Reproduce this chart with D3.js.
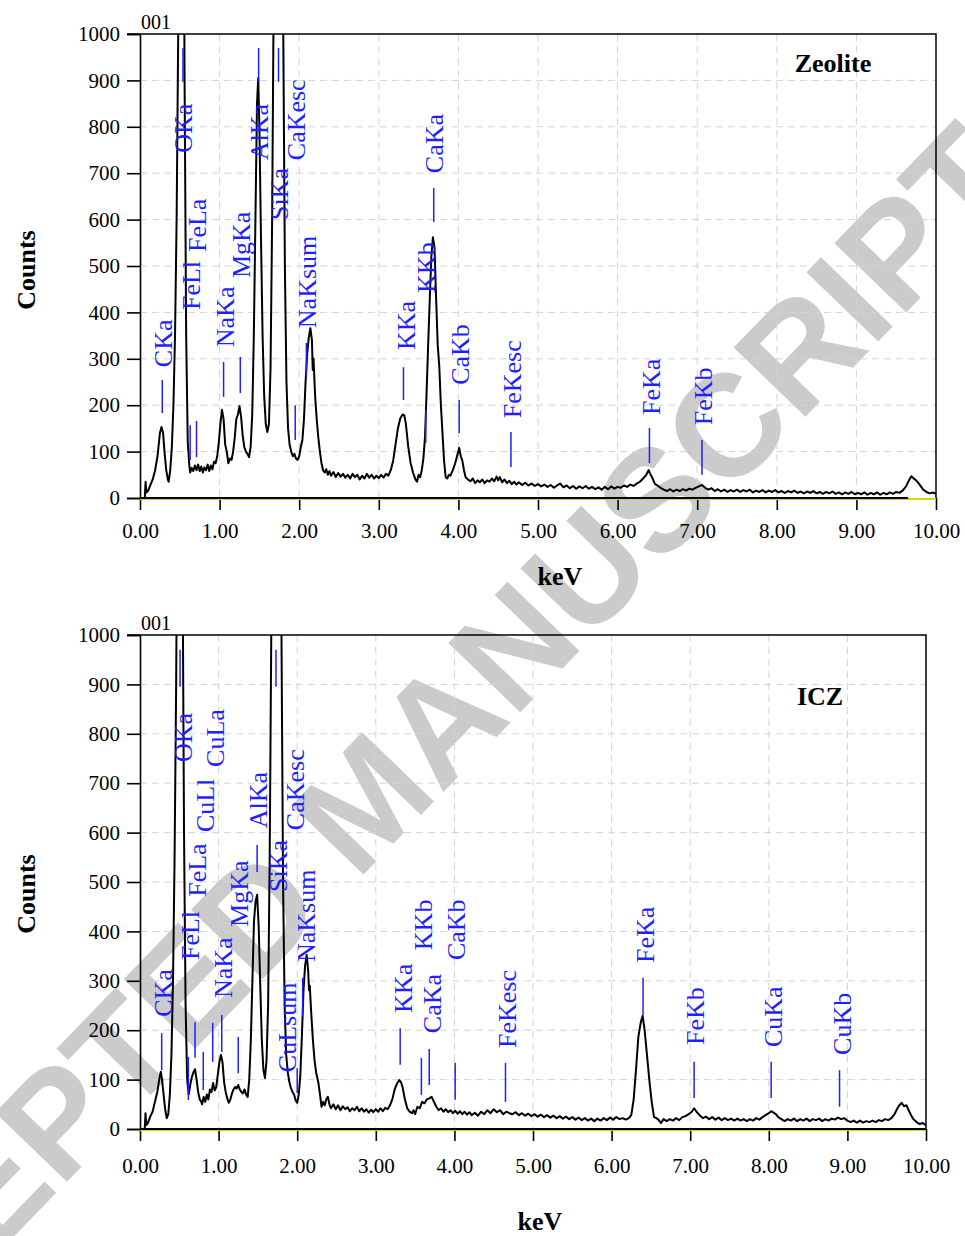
<!DOCTYPE html>
<html>
<head>
<meta charset="utf-8">
<script src="https://cdn.jsdelivr.net/npm/d3@7"></script>
<style>
  body { margin: 0; background: #fff; }
  svg { display: block; }
  text { font-family: "Liberation Serif", "Times New Roman", serif; }
</style>
</head>
<body>
<svg width="965" height="1236"></svg>
<script>
// ---- data ----
var energyTicks = [0, 1, 2, 3, 4, 5, 6, 7, 8, 9, 10];
var countTicks = [0, 100, 200, 300, 400, 500, 600, 700, 800, 900, 1000];

// [keV, counts]
var zeoliteSpectrum = [
  [0.06,0],[0.07,35],[0.08,12],[0.10,15],[0.13,28],[0.16,40],[0.19,60],[0.22,90],[0.25,140],[0.27,153],
  [0.29,140],[0.31,95],[0.33,60],[0.35,40],[0.36,35],[0.38,60],[0.40,110],[0.42,200],[0.44,350],[0.46,600],
  [0.48,1000],[0.50,1600],[0.52,2000],[0.54,1700],[0.56,900],[0.58,350],[0.60,120],[0.62,70],[0.63,55],[0.65,65],
  [0.67,58],[0.69,70],[0.71,60],[0.73,72],[0.75,58],[0.77,68],[0.79,55],[0.81,66],[0.83,60],[0.85,72],
  [0.87,58],[0.89,70],[0.91,62],[0.93,78],[0.95,75],[0.97,90],[0.99,120],[1.01,160],[1.03,190],[1.05,170],
  [1.07,115],[1.09,100],[1.11,75],[1.13,85],[1.15,82],[1.17,100],[1.19,130],[1.21,170],[1.23,180],[1.25,198],
  [1.27,175],[1.29,135],[1.31,110],[1.33,100],[1.35,95],[1.37,88],[1.39,110],[1.41,180],[1.43,350],[1.45,600],
  [1.47,850],[1.485,905],[1.50,800],[1.52,560],[1.54,350],[1.56,220],[1.58,160],[1.60,142],[1.62,160],[1.64,280],
  [1.66,600],[1.68,1100],[1.70,2000],[1.74,3000],[1.78,2000],[1.80,1000],[1.82,500],[1.84,250],[1.86,150],[1.88,114],
  [1.90,100],[1.92,90],[1.94,95],[1.96,85],[1.98,82],[2.00,90],[2.02,110],[2.04,125],[2.06,170],[2.08,250],
  [2.10,310],[2.12,345],[2.14,366],[2.16,340],[2.17,276],[2.18,300],[2.20,220],[2.22,170],[2.24,130],[2.26,100],
  [2.28,75],[2.30,60],[2.32,55],[2.34,62],[2.36,50],[2.38,58],[2.40,48],[2.43,56],[2.46,45],[2.49,54],
  [2.52,46],[2.55,52],[2.58,44],[2.61,50],[2.64,42],[2.67,52],[2.70,45],[2.73,50],[2.76,40],[2.79,48],
  [2.82,42],[2.85,52],[2.88,44],[2.91,50],[2.94,42],[2.97,48],[3.00,43],[3.03,50],[3.06,44],[3.09,52],
  [3.12,48],[3.15,60],[3.18,80],[3.21,115],[3.24,150],[3.27,172],[3.30,180],[3.32,178],[3.34,160],[3.37,110],
  [3.40,75],[3.43,55],[3.46,40],[3.48,35],[3.50,50],[3.52,45],[3.54,60],[3.56,85],[3.58,130],[3.60,226],
  [3.62,330],[3.64,427],[3.66,520],[3.68,562],[3.70,540],[3.72,431],[3.74,330],[3.76,283],[3.78,200],[3.80,140],
  [3.82,80],[3.84,45],[3.86,42],[3.88,50],[3.90,48],[3.93,60],[3.96,75],[3.99,95],[4.01,108],[4.03,90],
  [4.05,80],[4.07,60],[4.09,45],[4.12,40],[4.15,36],[4.18,42],[4.21,32],[4.24,38],[4.27,34],[4.30,40],
  [4.33,32],[4.36,38],[4.39,35],[4.42,42],[4.45,36],[4.48,46],[4.50,38],[4.52,45],[4.55,34],[4.58,40],
  [4.61,32],[4.64,37],[4.67,30],[4.70,35],[4.73,29],[4.76,34],[4.80,28],[4.84,33],[4.88,27],[4.92,31],
  [4.96,26],[5.00,30],[5.04,25],[5.08,29],[5.12,24],[5.16,28],[5.20,22],[5.24,27],[5.28,31],[5.32,23],
  [5.36,27],[5.40,21],[5.44,26],[5.48,20],[5.52,25],[5.56,21],[5.60,26],[5.64,20],[5.68,24],[5.72,19],
  [5.76,23],[5.80,18],[5.84,24],[5.88,19],[5.92,25],[5.96,20],[6.00,24],[6.04,22],[6.08,27],[6.12,24],
  [6.16,29],[6.20,26],[6.24,31],[6.28,35],[6.32,42],[6.36,50],[6.39,60],[6.41,52],[6.44,42],[6.47,30],
  [6.50,27],[6.54,22],[6.58,18],[6.62,15],[6.66,19],[6.70,14],[6.74,18],[6.78,15],[6.82,19],[6.86,16],
  [6.90,20],[6.94,18],[6.98,22],[7.02,25],[7.06,28],[7.10,22],[7.14,18],[7.18,21],[7.22,15],[7.26,19],
  [7.30,14],[7.34,18],[7.38,13],[7.42,17],[7.46,14],[7.50,18],[7.54,13],[7.58,17],[7.62,14],[7.66,18],
  [7.70,12],[7.74,16],[7.78,13],[7.82,17],[7.86,12],[7.90,16],[7.94,13],[7.98,17],[8.02,12],[8.06,15],
  [8.10,11],[8.14,15],[8.18,12],[8.22,16],[8.26,11],[8.30,14],[8.34,10],[8.38,14],[8.42,11],[8.46,15],
  [8.50,10],[8.54,13],[8.58,9],[8.62,13],[8.66,10],[8.70,14],[8.74,9],[8.78,12],[8.82,8],[8.86,12],
  [8.90,9],[8.94,13],[8.98,8],[9.02,11],[9.06,8],[9.10,12],[9.14,7],[9.18,11],[9.22,8],[9.26,12],
  [9.30,7],[9.34,11],[9.38,8],[9.42,12],[9.46,9],[9.50,13],[9.54,11],[9.58,16],[9.62,24],[9.66,38],
  [9.69,47],[9.72,42],[9.75,38],[9.78,32],[9.81,25],[9.84,18],[9.88,13],[9.92,10],[9.96,12],[10.00,9]
];

var iczSpectrum = [
  [0.06,0],[0.07,32],[0.08,8],[0.10,12],[0.13,25],[0.16,35],[0.19,55],[0.22,75],[0.25,105],[0.265,116],
  [0.28,100],[0.30,70],[0.32,40],[0.34,22],[0.36,30],[0.38,70],[0.40,150],[0.42,300],[0.44,550],[0.46,900],
  [0.48,1400],[0.50,1900],[0.52,1800],[0.54,1200],[0.56,600],[0.58,250],[0.60,100],[0.62,70],[0.64,90],[0.66,105],
  [0.68,115],[0.70,121],[0.72,100],[0.74,75],[0.76,60],[0.78,55],[0.79,50],[0.81,65],[0.83,55],[0.85,70],
  [0.87,60],[0.89,80],[0.91,75],[0.93,93],[0.95,78],[0.97,85],[0.99,110],[1.01,135],[1.03,150],[1.05,135],
  [1.07,95],[1.09,75],[1.11,62],[1.13,53],[1.15,60],[1.17,72],[1.19,80],[1.21,85],[1.23,82],[1.25,89],
  [1.27,80],[1.29,75],[1.31,72],[1.33,80],[1.35,70],[1.37,65],[1.39,100],[1.41,180],[1.43,300],[1.45,420],
  [1.47,460],[1.49,474],[1.51,410],[1.53,290],[1.55,180],[1.57,120],[1.59,103],[1.61,140],[1.63,250],[1.65,550],
  [1.67,1000],[1.70,1800],[1.74,2500],[1.78,1800],[1.80,1000],[1.82,500],[1.84,250],[1.86,150],[1.88,115],[1.90,95],
  [1.92,83],[1.94,75],[1.96,70],[1.98,58],[2.00,53],[2.02,70],[2.04,110],[2.06,190],[2.08,280],[2.10,330],
  [2.12,352],[2.14,320],[2.15,281],[2.16,290],[2.18,230],[2.20,180],[2.22,140],[2.24,115],[2.27,93],[2.29,70],
  [2.31,45],[2.33,55],[2.35,48],[2.37,60],[2.39,65],[2.41,50],[2.43,42],[2.46,50],[2.49,40],[2.52,48],
  [2.55,38],[2.58,46],[2.61,40],[2.64,44],[2.67,36],[2.70,42],[2.73,38],[2.76,45],[2.79,36],[2.82,42],
  [2.85,35],[2.88,40],[2.91,33],[2.94,39],[2.97,34],[3.00,40],[3.03,35],[3.06,42],[3.09,36],[3.12,43],
  [3.15,40],[3.18,48],[3.21,60],[3.24,80],[3.27,92],[3.30,99],[3.32,95],[3.34,85],[3.37,60],[3.40,42],
  [3.43,35],[3.46,32],[3.48,38],[3.50,30],[3.53,45],[3.56,42],[3.59,55],[3.62,52],[3.65,60],[3.68,62],
  [3.71,65],[3.74,55],[3.77,45],[3.80,38],[3.83,42],[3.86,35],[3.89,40],[3.92,34],[3.95,38],[3.98,32],
  [4.01,37],[4.04,31],[4.07,36],[4.10,30],[4.13,35],[4.16,29],[4.19,34],[4.22,28],[4.26,33],[4.30,27],
  [4.34,35],[4.38,30],[4.42,38],[4.46,32],[4.50,40],[4.54,34],[4.58,38],[4.62,30],[4.66,35],[4.70,32],
  [4.74,30],[4.78,34],[4.82,28],[4.86,32],[4.90,27],[4.94,31],[4.98,26],[5.02,30],[5.06,25],[5.10,29],
  [5.14,24],[5.18,28],[5.22,23],[5.26,27],[5.30,22],[5.34,26],[5.38,21],[5.42,25],[5.46,20],[5.50,24],
  [5.54,19],[5.58,23],[5.62,18],[5.66,22],[5.70,17],[5.74,21],[5.78,16],[5.82,21],[5.86,17],[5.90,22],
  [5.94,18],[5.98,23],[6.02,19],[6.06,24],[6.10,20],[6.14,22],[6.18,19],[6.22,22],[6.25,28],[6.28,59],
  [6.31,119],[6.34,186],[6.37,215],[6.395,229],[6.42,200],[6.45,150],[6.48,99],[6.51,55],[6.54,24],[6.57,22],
  [6.60,18],[6.63,12],[6.66,20],[6.70,16],[6.74,20],[6.78,17],[6.82,22],[6.86,18],[6.90,24],[6.94,26],
  [6.98,30],[7.02,35],[7.05,42],[7.08,35],[7.12,28],[7.16,22],[7.20,25],[7.24,20],[7.28,24],[7.32,19],
  [7.36,23],[7.40,18],[7.44,22],[7.48,18],[7.52,21],[7.56,17],[7.60,21],[7.64,17],[7.68,20],[7.72,16],
  [7.76,20],[7.80,17],[7.84,22],[7.88,19],[7.92,24],[7.96,28],[8.00,32],[8.03,36],[8.06,33],[8.09,30],
  [8.12,24],[8.16,20],[8.20,16],[8.24,20],[8.28,17],[8.32,21],[8.36,16],[8.40,20],[8.44,17],[8.48,21],
  [8.52,16],[8.56,20],[8.60,18],[8.64,21],[8.68,16],[8.72,20],[8.76,17],[8.80,21],[8.84,19],[8.88,23],
  [8.92,20],[8.96,22],[9.00,17],[9.04,14],[9.08,17],[9.12,13],[9.16,17],[9.20,13],[9.24,16],[9.28,14],
  [9.32,17],[9.36,14],[9.40,18],[9.44,16],[9.48,20],[9.52,18],[9.56,22],[9.60,30],[9.63,40],[9.66,48],
  [9.69,53],[9.72,46],[9.75,48],[9.78,38],[9.81,28],[9.84,20],[9.88,14],[9.92,10],[9.96,12],[10.00,7]
];

// line markers: name, marker keV, marker counts lo/hi, label keV, label bottom counts
var zeoliteLines = [
  {name:"CKa",    e:0.28, lo:183, hi:254, te:0.295, tb:282},
  {name:"FeLl",   e:0.63, lo:82,  hi:157, te:0.64,  tb:405},
  {name:"FeLa",   e:0.71, lo:88,  hi:166, te:0.72,  tb:530},
  {name:"OKa",    e:0.54, lo:897, hi:970, te:0.547, tb:744},
  {name:"NaKa",   e:1.05, lo:218, hi:293, te:1.07,  tb:325},
  {name:"MgKa",   e:1.26, lo:226, hi:304, te:1.27,  tb:474},
  {name:"AlKa",   e:1.49, lo:897, hi:970, te:1.495, tb:728},
  {name:"SiKa",   e:1.74, lo:897, hi:970, te:1.746, tb:599},
  {name:"CaKesc", e:1.95, lo:125, hi:200, te:1.96,  tb:728},
  {name:"NaKsum", e:2.09, lo:261, hi:334, te:2.10,  tb:366},
  {name:"KKa",    e:3.31, lo:211, hi:282, te:3.34,  tb:319},
  {name:"KKb",    e:3.59, lo:119, hi:190, te:3.60,  tb:442},
  {name:"CaKa",   e:3.69, lo:595, hi:668, te:3.69,  tb:700},
  {name:"CaKb",   e:4.01, lo:140, hi:211, te:4.02,  tb:244},
  {name:"FeKesc", e:4.66, lo:67,  hi:142, te:4.68,  tb:172},
  {name:"FeKa",   e:6.40, lo:75,  hi:151, te:6.42,  tb:179},
  {name:"FeKb",   e:7.06, lo:50,  hi:125, te:7.07,  tb:157}
];

var iczLines = [
  {name:"CKa",    e:0.276, lo:119, hi:194, te:0.29,  tb:227},
  {name:"OKa",    e:0.51,  lo:895, hi:970, te:0.547, tb:743},
  {name:"FeLl",   e:0.615, lo:59,  hi:146, te:0.636, tb:342},
  {name:"FeLa",   e:0.70,  lo:144, hi:216, te:0.725, tb:470},
  {name:"CuLl",   e:0.805, lo:79,  hi:156, te:0.827, tb:601},
  {name:"CuLa",   e:0.925, lo:136, hi:215, te:0.954, tb:733},
  {name:"NaKa",   e:1.04,  lo:156, hi:231, te:1.056, tb:265},
  {name:"MgKa",   e:1.25,  lo:113, hi:186, te:1.26,  tb:409},
  {name:"AlKa",   e:1.49,  lo:520, hi:575, te:1.50,  tb:609},
  {name:"SiKa",   e:1.73,  lo:895, hi:970, te:1.756, tb:480},
  {name:"CaKesc", e:2.00,  lo:73,  hi:123, te:1.98,  tb:605},
  {name:"CuLsum", e:null,  lo:0,   hi:0,   te:1.87,  tb:115},
  {name:"NaKsum", e:2.07,  lo:227, hi:306, te:2.11,  tb:338},
  {name:"KKa",    e:3.31,  lo:130, hi:204, te:3.35,  tb:235},
  {name:"KKb",    e:3.58,  lo:69,  hi:144, te:3.60,  tb:362},
  {name:"CaKa",   e:3.68,  lo:89,  hi:162, te:3.715, tb:194},
  {name:"CaKb",   e:4.01,  lo:59,  hi:134, te:4.02,  tb:342},
  {name:"FeKesc", e:4.65,  lo:55,  hi:134, te:4.67,  tb:164},
  {name:"FeKa",   e:6.40,  lo:231, hi:306, te:6.425, tb:336},
  {name:"FeKb",   e:7.05,  lo:63,  hi:136, te:7.06,  tb:170},
  {name:"CuKa",   e:8.03,  lo:63,  hi:136, te:8.05,  tb:166},
  {name:"CuKb",   e:8.90,  lo:45,  hi:119, te:8.93,  tb:150}
];

var svg = d3.select("svg");
var blue = "#1f1fff";

// watermark behind everything
svg.append("text")
    .attr("transform", "translate(365,800) rotate(-46)")
    .attr("text-anchor", "middle")
    .attr("dy", "0.35em")
    .style("font-family", "'Liberation Sans', Arial, sans-serif")
    .style("font-weight", "bold")
    .style("font-size", "145px")
    .attr("fill", "#cbcbcb")
    .text("ACCEPTED MANUSCRIPT");

function panel(opt) {
  var x = d3.scaleLinear().domain([0, 10]).range([opt.left, opt.right]);
  var y = d3.scaleLinear().domain([0, 1000]).range([opt.bottom, opt.top]);
  var g = svg.append("g");

  // grid
  g.append("g").selectAll("line")
    .data(energyTicks.slice(1, -1))
    .enter().append("line")
      .attr("x1", function(d) { return x(d); })
      .attr("x2", function(d) { return x(d); })
      .attr("y1", opt.top).attr("y2", opt.bottom)
      .attr("stroke", "#d4d4d4").attr("stroke-dasharray", "7,5");
  g.append("g").selectAll("line")
    .data(countTicks.slice(1, -1))
    .enter().append("line")
      .attr("y1", function(d) { return y(d); })
      .attr("y2", function(d) { return y(d); })
      .attr("x1", opt.left).attr("x2", opt.right)
      .attr("stroke", "#d4d4d4").attr("stroke-dasharray", "7,5");

  // frame (top, right)
  g.append("path")
    .attr("d", "M" + (opt.left - 13) + "," + opt.top + "H" + opt.right + "V" + opt.bottom)
    .attr("fill", "none").attr("stroke", "#000").attr("stroke-width", 1.5);

  // axes
  var yAxis = d3.axisLeft(y).tickValues(countTicks).tickSize(13).tickPadding(7)
    .tickFormat(d3.format("d"));
  var gy = g.append("g").attr("transform", "translate(" + opt.left + ",0)").call(yAxis);
  var xAxis = d3.axisBottom(x).tickValues(energyTicks).tickSize(12).tickPadding(opt.xPad)
    .tickFormat(d3.format(".2f"));
  var gx = g.append("g").attr("transform", "translate(0," + opt.bottom + ")").call(xAxis);
  [gx, gy].forEach(function(a) {
    a.selectAll("text").style("font-size", "21px").attr("fill", "#000")
      .style("font-family", "'Liberation Serif', serif");
    a.selectAll(".tick line").attr("stroke", "#000").attr("stroke-width", 1.6);
    a.select(".domain").attr("stroke", "#000").attr("stroke-width", 1.6);
  });
  gx.select(".domain").remove();

  // base line at zero: yellow with black over it
  g.append("line").attr("x1", x(0)).attr("x2", x(10))
    .attr("y1", opt.bottom + 1).attr("y2", opt.bottom + 1)
    .attr("stroke", "#d8d800").attr("stroke-width", 2);
  g.append("line").attr("x1", x(0)).attr("x2", x(opt.blackEnd))
    .attr("y1", opt.bottom).attr("y2", opt.bottom)
    .attr("stroke", "#000").attr("stroke-width", 2.2);

  // spectrum
  var clipId = "clip" + opt.id;
  svg.append("clipPath").attr("id", clipId).append("rect")
    .attr("x", opt.left).attr("y", opt.top)
    .attr("width", opt.right - opt.left).attr("height", opt.bottom - opt.top);
  var line = d3.line()
    .x(function(d) { return x(d[0]); })
    .y(function(d) { return y(d[1]); });
  g.append("path")
    .datum(opt.spectrum)
    .attr("clip-path", "url(#" + clipId + ")")
    .attr("d", line)
    .attr("fill", "none").attr("stroke", "#000").attr("stroke-width", 2)
    .attr("stroke-linejoin", "round");

  // element markers
  g.append("g").selectAll("line")
    .data(opt.lines.filter(function(d) { return d.e !== null; }))
    .enter().append("line")
      .attr("x1", function(d) { return x(d.e); })
      .attr("x2", function(d) { return x(d.e); })
      .attr("y1", function(d) { return y(d.lo); })
      .attr("y2", function(d) { return y(d.hi); })
      .attr("stroke", blue).attr("stroke-width", 1.5);
  g.append("g").selectAll("text")
    .data(opt.lines)
    .enter().append("text")
      .attr("transform", function(d) {
        return "translate(" + x(d.te) + "," + y(d.tb) + ") rotate(-90)";
      })
      .attr("dy", "0.34em")
      .attr("fill", blue)
      .style("font-size", "26px")
      .text(function(d) { return d.name; });

  // titles
  g.append("text")
    .attr("transform", "translate(" + 35 + "," + opt.countsY + ") rotate(-90)")
    .attr("text-anchor", "middle")
    .style("font-size", "26px").style("font-weight", "bold")
    .text("Counts");
  g.append("text")
    .attr("x", opt.kevX).attr("y", opt.kevY)
    .attr("text-anchor", "middle")
    .style("font-size", "26px").style("font-weight", "bold")
    .text("keV");
  g.append("text")
    .attr("x", opt.left + 1).attr("y", opt.top - 5)
    .style("font-size", "20px")
    .text("001");
  g.append("text")
    .attr("x", opt.nameX).attr("y", opt.nameY)
    .attr("text-anchor", "middle")
    .style("font-size", "26px").style("font-weight", "bold")
    .text(opt.name);
}

panel({
  id: 1, name: "Zeolite", spectrum: zeoliteSpectrum, lines: zeoliteLines,
  left: 140, right: 936, top: 34, bottom: 498, xPad: 13, blackEnd: 9.65,
  countsY: 270, kevX: 560, kevY: 585, nameX: 833, nameY: 72
});
panel({
  id: 2, name: "ICZ", spectrum: iczSpectrum, lines: iczLines,
  left: 140, right: 926, top: 635, bottom: 1129, xPad: 17, blackEnd: 10,
  countsY: 894, kevX: 540, kevY: 1230, nameX: 820, nameY: 705
});
</script>
</body>
</html>
